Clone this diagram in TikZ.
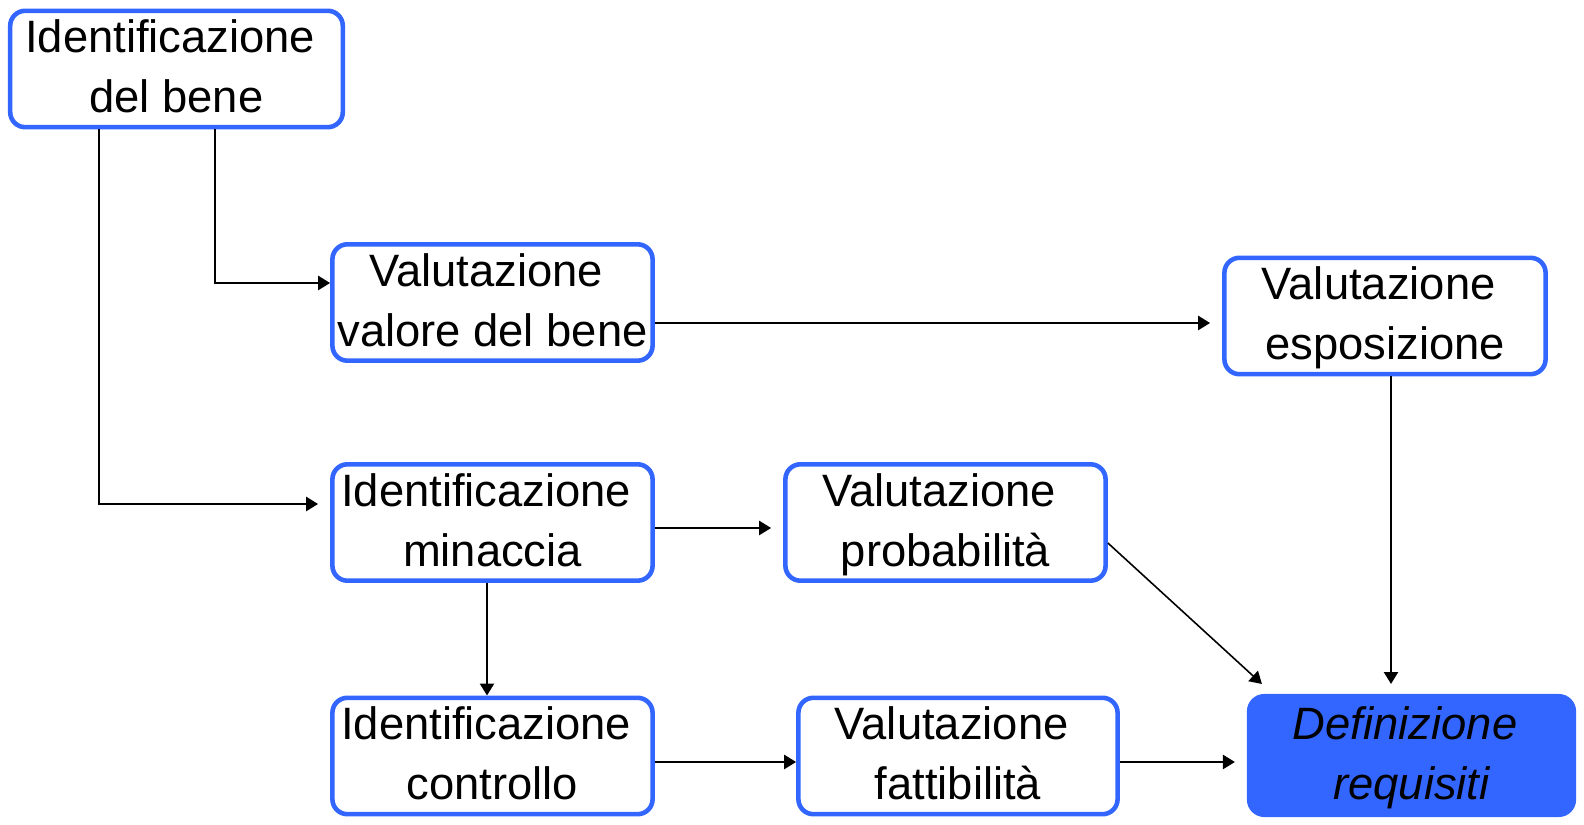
\documentclass[tikz,border=0pt]{standalone}
\usepackage{fontspec}
\setmainfont{Liberation Sans}
\usetikzlibrary{arrows.meta}
\definecolor{myblue}{HTML}{3366FF}
\newcommand\lnst{\rule[-4.1pt]{0pt}{16.1pt}}
\newcommand\tsp{\rule{0.278em}{0pt}}
\begin{document}
\begin{tikzpicture}[x=0.01cm, y=-0.01cm,
  box/.style={draw=myblue, line width=1.3pt, rounded corners=0.15cm, fill=white,
    align=center, inner sep=0pt, minimum width=3.20cm, minimum height=1.14cm,
    font=\fontsize{12.9pt}{17pt}\selectfont},
  conn/.style={draw=black, line width=0.6pt, -{Triangle[length=3.4pt,width=4pt]}},
  gap/.style={shorten >=0.12cm}]
\useasboundingbox (0,0) rectangle (1584,825);

\node[box, minimum width=3.324cm, minimum height=1.134cm] (B1) at (176.5,69)
  {\lnst Identificazione\tsp\\del bene\lnst};
\node[box] (B2) at (492.5,302.5) {\lnst Valutazione\tsp\\valore del bene\lnst};
\node[box, minimum width=3.21cm, minimum height=1.15cm] (B3) at (1385,316)
  {\lnst Valutazione\tsp\\esposizione\lnst};
\node[box] (B4) at (492.5,522.5) {\lnst Identificazione\tsp\\minaccia\lnst};
\node[box] (B5) at (945.5,522.5) {\lnst Valutazione\tsp\\probabilità\lnst};
\node[box, minimum height=1.134cm] (B6) at (492.5,756) {\lnst Identificazione\tsp\\controllo\lnst};
\node[box, minimum width=3.19cm, minimum height=1.134cm] (B7) at (958,756)
  {\lnst Valutazione\tsp\\fattibilità\lnst};
\node[box, fill=myblue, minimum width=3.244cm, minimum height=1.184cm,
  font=\fontsize{12.9pt}{17pt}\selectfont\itshape] (B8) at (1411.5,755.5)
  {\lnst Definizione\tsp\\requisiti\lnst};

\coordinate (k1) at (215,283);
\coordinate (k2) at (99,504);
\coordinate (k3) at (0,323);
\coordinate (k4) at (1391,0);
\coordinate (k5) at (0,528);
\coordinate (k6) at (487,0);
\coordinate (k7) at (0,543);
\coordinate (k8) at (0,762);

\draw[conn] (B1.south -| k1) |- (B2.west |- k1);
\draw[conn, gap] (B1.south -| k2) |- (B4.west |- k2);
\draw[conn, gap] (B2.east |- k3) -- (B3.west |- k3);
\draw[conn, shorten >=0.1cm] (B3.south -| k4) -- (B8.north -| k4);
\draw[conn, gap] (B4.east |- k5) -- (B5.west |- k5);
\draw[conn] (B4.south -| k6) -- (B6.north -| k6);
\draw[conn, line width=0.45pt] (B5.east |- k7) -- ([shift={(15,-10)}]B8.north west);
\draw[conn] (B6.east |- k8) -- (B7.west |- k8);
\draw[conn, gap] (B7.east |- k8) -- (B8.west |- k8);
\end{tikzpicture}
\end{document}
